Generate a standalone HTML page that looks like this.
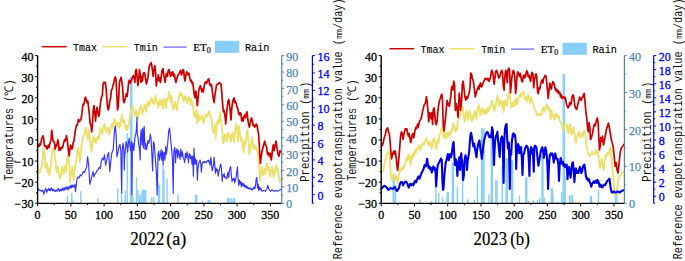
<!DOCTYPE html>
<html><head><meta charset="utf-8"><style>
html,body{margin:0;padding:0;background:#fff;width:685px;height:261px;overflow:hidden;}
svg{display:block;}
</style></head><body>
<svg width="685" height="261" viewBox="0 0 685 261">
<rect width="685" height="261" fill="#fff"/>
<rect x="66.6" y="196.2" width="1.4" height="7.1" fill="#87CEFA"/>
<rect x="71.1" y="192.8" width="1.4" height="10.5" fill="#87CEFA"/>
<rect x="72.5" y="200.5" width="1.4" height="2.8" fill="#87CEFA"/>
<rect x="80.1" y="191" width="1.4" height="12.3" fill="#87CEFA"/>
<rect x="97.1" y="198.3" width="1.4" height="5" fill="#87CEFA"/>
<rect x="117.1" y="188.4" width="1.4" height="14.9" fill="#87CEFA"/>
<rect x="120.8" y="191.9" width="1.4" height="11.4" fill="#87CEFA"/>
<rect x="124.5" y="191" width="1.4" height="12.3" fill="#87CEFA"/>
<rect x="126.6" y="133" width="1.4" height="70.3" fill="#87CEFA"/>
<rect x="129.9" y="77" width="1.4" height="126.3" fill="#87CEFA"/>
<rect x="131.1" y="77" width="1.4" height="126.3" fill="#87CEFA"/>
<rect x="132.2" y="196" width="1.4" height="7.3" fill="#87CEFA"/>
<rect x="135.8" y="177.4" width="1.4" height="25.9" fill="#87CEFA"/>
<rect x="137.3" y="190" width="1.4" height="13.3" fill="#87CEFA"/>
<rect x="138.8" y="196" width="1.4" height="7.3" fill="#87CEFA"/>
<rect x="140.1" y="194" width="1.4" height="9.3" fill="#87CEFA"/>
<rect x="141.5" y="191" width="1.4" height="12.3" fill="#87CEFA"/>
<rect x="142.6" y="189" width="1.4" height="14.3" fill="#87CEFA"/>
<rect x="143.8" y="190" width="1.4" height="13.3" fill="#87CEFA"/>
<rect x="145" y="190" width="1.4" height="13.3" fill="#87CEFA"/>
<rect x="151.1" y="197" width="1.4" height="6.3" fill="#87CEFA"/>
<rect x="153.2" y="197.4" width="1.4" height="5.9" fill="#87CEFA"/>
<rect x="157.8" y="182.7" width="1.4" height="20.6" fill="#87CEFA"/>
<rect x="158.8" y="185" width="1.4" height="18.3" fill="#87CEFA"/>
<rect x="162.3" y="165.8" width="1.4" height="37.5" fill="#87CEFA"/>
<rect x="163.3" y="170" width="1.4" height="33.3" fill="#87CEFA"/>
<rect x="166.3" y="178.5" width="1.4" height="24.8" fill="#87CEFA"/>
<rect x="177.4" y="194.3" width="1.4" height="9" fill="#87CEFA"/>
<rect x="194.8" y="194.6" width="1.4" height="8.7" fill="#87CEFA"/>
<rect x="196.1" y="194.9" width="1.4" height="8.4" fill="#87CEFA"/>
<rect x="201.7" y="200.6" width="1.4" height="2.7" fill="#87CEFA"/>
<rect x="207.5" y="200.4" width="1.4" height="2.9" fill="#87CEFA"/>
<rect x="208.8" y="200" width="1.4" height="3.3" fill="#87CEFA"/>
<rect x="226.8" y="198" width="1.4" height="5.3" fill="#87CEFA"/>
<rect x="228.3" y="197.7" width="1.4" height="5.6" fill="#87CEFA"/>
<rect x="230.3" y="198" width="1.4" height="5.3" fill="#87CEFA"/>
<rect x="232.3" y="198.6" width="1.4" height="4.7" fill="#87CEFA"/>
<rect x="233.8" y="198" width="1.4" height="5.3" fill="#87CEFA"/>
<rect x="249.4" y="201.4" width="1.4" height="1.9" fill="#87CEFA"/>
<rect x="251.3" y="202.4" width="1.4" height="0.9" fill="#87CEFA"/>
<polyline points="38.1,172 38.5,172.6 39.3,169.5 40.1,172.6 40.8,168 41.6,166.5 42.4,161.9 43.1,151.1 43.9,148.1 44.7,154.2 45.4,168 46.2,164.9 47,163.4 47.7,172.6 48.5,168 49.3,175.7 50,171.1 50.8,164.9 51.6,157.3 52.3,151.1 53.1,148.1 53.9,149.6 54.6,154.2 55.4,158.8 56.2,169.5 56.9,172.6 57.7,166.5 58.5,169.5 59.2,175.7 60,178.7 60.8,175.7 61.5,171.1 62.3,166.5 63.1,169.5 63.8,174.1 64.6,169.5 65.4,164.9 66.1,171.1 66.9,160.3 67.7,155.7 68.4,158.8 69.2,164.9 70,181.8 70.7,175.7 71.5,171.1 72.2,166.5 73,175.7 73.8,180.2 74.5,171.1 75.3,164.9 76.1,160.3 76.9,156.8 77.8,147.6 78.8,151.3 79.7,162.3 80.6,154.9 81.5,145.7 82.4,140.2 83.4,136.5 84.3,134.7 85.2,129.2 86.1,127.4 87,134.7 87.9,140.2 88.9,131 89.8,136.5 90.7,147.6 91.6,151.3 92.5,142 93.5,136.5 94.4,142 95.3,138.4 96.2,143 97.1,138.4 98.1,136.5 99,139 99.9,131 100.7,128 101.5,131.8 102.2,134.1 103,130.3 103.8,126.5 104.5,123.4 105.3,128 106.1,131.8 106.8,129.5 107.6,127.2 108.4,130.3 109.1,134.9 109.9,131.8 110.7,128 111.4,125.7 112.2,123.4 113,128 113.7,122.6 114.5,118.8 115.2,121.1 116,126.5 116.8,124.9 117.5,122.6 118.3,125.7 119.1,128 119.5,122.7 120.3,125.7 121.1,118.8 121.8,115 122.6,121.1 123.4,122.7 124.1,119.6 124.9,125 125.7,128.8 126.4,125.7 127.2,130.3 128,127.2 128.7,124.2 129.5,119.6 130.3,115 131.5,109 132.6,105.8 133.3,107.3 134.1,111.9 134.9,115.8 135.6,113.5 136.4,110.4 137.2,115 137.9,118.8 138.7,115 139.5,109.6 140.2,107.3 141,105.8 141.8,110.4 142.5,114.2 143.3,110.4 144.1,107.3 144.8,104.3 145.6,108.9 146.4,111.9 147.1,104.3 147.9,101.2 148.7,104.3 149.4,105.8 150.2,101.2 151,98.1 151.7,99.7 152.5,102.7 153.2,99.7 154,104.3 154.8,99.7 155.5,95.1 156.3,99.7 157.5,104.9 158.3,108 159.1,101.9 159.8,99.6 160.6,104.9 161.4,100.3 162.1,103.4 162.9,108.8 163.7,100.3 164.4,98.8 165.2,104.9 166,108 166.7,98.8 167.5,100.3 168.3,96.5 169,91.9 169.8,97.3 170.6,101.9 171.3,95.7 172.1,103.4 172.9,108 173.6,109.5 174.4,103.4 175.2,101.9 175.9,106.5 176.7,110.3 177.5,104.9 178.2,100.3 179,97.3 179.8,94.2 180.5,91.9 181.3,95.7 182.1,94.2 182.8,97.3 183.6,101.9 184.4,98.8 185.1,95.7 185.9,99.6 186.7,97.3 187.4,103.4 188.2,98.8 189,96.5 189.7,100.3 190.5,104.9 191.2,98.8 192,101.9 192.8,105.7 193.5,111.1 194.3,115.7 195.1,117.2 195.8,112.7 196.5,109.6 197.3,123.4 198.1,114.2 198.8,115.7 199.6,120.3 200.4,117.3 201.1,118.8 201.9,115.7 202.7,119.6 203.4,123.4 204.2,120.3 205,115.7 205.7,117.3 206.5,114.2 207.3,116.5 208,114.2 208.8,111.1 209.6,114.2 210.3,115.7 211.1,117.3 211.9,121.9 212.6,131.1 213.4,132.6 214.2,128 214.9,124.9 215.7,138.7 216.5,128 217.2,121.9 218,120.3 218.8,123.4 219.5,117.3 220.3,112.7 221.1,121.9 221.8,128 222.6,135.7 223.4,143.3 224.1,138.7 224.9,134.1 225.7,135.7 226.4,141.8 227.2,135.7 228,132.6 228.7,137.2 229.5,134.1 230.3,138.7 231,141.8 231.8,135.7 232.6,132.6 233.3,137.2 234.1,141.8 235,131.5 235.9,123.8 236.9,127.7 237.8,141.1 238.8,125.7 239.7,131.5 240.7,141.1 241.7,137.2 242.6,144.9 243.6,152.6 244.5,141.1 245.5,144.9 246.5,135.3 247.4,129.6 248.4,141.1 249.3,154.5 250.3,146.8 251.2,143 252.2,137.2 253.2,148.7 254.1,144.9 255.1,148.7 256,146.8 257,150.7 257.9,152.6 258.9,166 259.6,172 260.2,180.4 261.1,171.9 261.9,166.9 262.8,173.6 263.6,175.3 264.5,168.5 265.3,173.6 266.1,166.9 267,163.5 267.8,170.2 268.7,166.9 269.5,173.6 270.4,177 271.2,170.2 272,166.9 272.9,171.9 273.7,177 274.6,171.9 275.4,166.9 276.3,165.2 277.1,171.9 277.9,168.5 278.8,175.3 279.6,182 280.5,178.7" fill="none" stroke="#ECE06A" stroke-width="1.8" stroke-linejoin="round" stroke-linecap="round" opacity="1.0"/>
<polyline points="38.3,145.1 39,146.5 39.7,143.8 40.4,145.1 41,142.4 41.7,138.4 42.4,137.7 43,135.7 43.7,139.1 44.4,145.1 45,146.5 45.7,145.8 46.4,147.8 47.1,149.1 47.7,146.5 48.4,145.1 49.1,147.8 49.7,143.8 50.4,142.4 51.1,138.4 51.8,130.4 52.4,135.7 53.1,141.1 53.8,141.8 54.4,142.4 55.1,149.1 55.8,145.1 56.4,146.5 57.1,143.8 57.8,139.8 58.5,142.4 59.1,150.5 59.8,147.8 60.5,149.8 61.1,148.5 61.8,147.1 62.5,147.8 63.1,145.1 63.8,142.4 64.5,139.8 65.2,141.1 65.8,138.4 66.5,135.7 67.2,139.8 67.8,145.1 68.5,151.8 69.2,155.8 69.9,149.1 70.5,145.1 71.2,146.5 71.9,149.1 72.5,147.8 73.2,142.4 73.9,141.1 74.5,137.1 75.2,131.7 75.9,127.7 76.6,125 77.3,125.2 78.4,119.4 79.6,121.7 80,120.3 80.8,119.6 81.5,116.5 82.3,110 83.1,104 83.8,104.5 84.8,99.6 85.5,97 86.3,100.4 87.1,102.7 87.8,101.1 88.6,107.3 89.4,114.9 90.1,123.4 90.9,124.1 91.7,131.8 92.4,125.7 93.2,110.3 94,105.7 94.7,111.9 95.5,121.1 96.3,111.9 97,107.3 97.8,111.9 98.6,116.5 99.3,114.9 100.1,106 100.9,100 101.6,97 102.4,95 103,85.3 103.8,82.3 105.3,82.3 106.1,88.4 106.8,97.6 107.6,108 108.4,110 109.1,106 109.9,100.7 110.7,97.6 111.4,89.9 112.2,89.2 113,85.3 113.7,83 114.5,79.2 115.2,76.9 116,79.2 116.8,94.5 117.5,110 118.3,106 119.5,81.8 121.1,77.2 122.6,87.1 123.4,101 124.1,102.7 124.9,99.7 125.7,96.6 126.4,93.5 127.2,96.3 128,88.7 128.7,81.8 129.5,80.2 130.3,83.3 131.5,80 132.6,77.2 133.3,75.6 134.1,77.2 134.9,82.5 135.6,70.3 136.4,69.5 137.2,77.9 137.9,85.6 138.7,79.5 139.5,69.5 140.2,74.9 141,82.5 141.8,76.4 142.5,81 143.3,73.3 144.1,72.6 144.8,73.3 145.6,79.5 146.4,84 147.1,81 147.9,77.9 148.7,70.3 149.4,65.7 150.2,64.1 151,62.6 151.7,64.9 152.5,70.3 153.2,76.4 154,70.3 154.8,65.7 155.5,70.3 156.3,86 157,80.5 157.5,79.5 158.3,74.9 159.1,81 159.8,77.9 160.6,82.5 161.4,74.9 162.1,70.3 162.9,68.7 163.7,74.9 164.4,77.9 165.2,82.5 166,74.9 166.7,73.3 167.5,76.4 168.3,70.3 169,69.5 169.8,73.3 170.6,76.4 171.3,72.6 172.1,74.9 172.9,71.8 173.6,76.4 174.4,74.1 175.2,79.5 175.9,82.5 176.7,79.5 177.5,76.4 178.2,74.9 179,73.3 179.8,72.6 180.5,70.3 181.3,74.9 182.1,73.3 182.8,69.5 183.6,70.3 184.4,77.9 185.1,81 185.9,74.9 186.7,71.8 187.4,72.6 188.2,74.9 189,73.3 189.7,77.9 190.5,81 191.2,80.2 192,83.3 192.8,82.5 193.5,88.7 194.3,94.8 195.1,97.8 195.8,91.1 196.5,96.5 197.3,105.7 198.1,98 198.8,90.3 199.6,87.3 200.4,85.7 201.1,88.8 201.9,91.9 202.7,88.8 203.4,91.9 204.2,85.7 205,82.7 205.7,81.9 206.5,83.4 207.3,81.1 208,79.6 208.8,78.8 209.6,84.2 210.3,85.7 211.1,84.2 211.9,87.3 212.6,93.4 213.4,99.5 214.2,102.6 214.9,94.9 215.7,90.3 216.5,85 217.2,84.2 218,84.2 218.8,83.4 219.5,82.7 220.3,83.4 221.1,84.2 221.8,93.4 222.6,104.1 223.4,111.8 224.1,110.2 224.9,115 225.7,124 226.4,116 227.2,107.2 228,101.1 228.7,99.5 229.5,104.1 230.3,112 231,120 231.8,108 232.6,102.6 233.3,99.5 234.1,98 234.8,102.6 235.5,101.1 236.3,104.1 237.1,107.2 237.8,108.7 238.6,113.3 239.4,114.9 240.1,112.6 240.9,113.3 241.7,121 242.4,117.9 243.2,121 244,116.4 244.7,114.9 245.5,117.9 246.3,113.3 247,111.8 247.8,119.5 248.6,124.1 249.3,127.1 250.1,124.1 250.9,119.5 251.6,117.9 252.4,121 253.2,125.6 253.9,124.8 254.7,127.1 255.5,125.6 256.2,124.1 257,125.6 257.8,130.2 258.5,133.2 259.3,145 259.9,157 260.4,163.5 261.1,157 261.9,152 262.7,148.7 263.7,144.9 264.7,141.1 265.6,144.9 266.6,146.8 267.5,154.5 268.5,152.6 269.4,156.4 270.4,153.4 271.2,160 272,155 272.6,148.7 273.3,144.9 274.2,150.7 275.2,144.9 276.1,141.1 277.1,148.7 278.1,154.5 279,156.4 280,150.7 281,152" fill="none" stroke="#CC0000" stroke-width="1.7" stroke-linejoin="round" stroke-linecap="round" opacity="1.0"/>
<polyline points="38.1,188.6 39.3,190.7 40.4,190.1 41.6,191.3 42.7,190.1 43.3,192.4 43.9,194.1 44.5,191.3 45,190.1 45.6,188.4 46.2,190.1 46.8,192.4 47.3,190.7 47.9,189.5 48.5,188.4 49.1,190.7 49.6,189 50.2,190.7 50.8,189.5 51.4,187.8 51.9,189.5 52.5,190.7 53.1,189 53.7,190.1 54.2,191.3 54.8,190.1 55.4,191.3 56,190.7 56.5,190.1 57.1,191.3 57.7,190.1 58.3,188.4 58.8,190.1 59.4,191.3 60,189.5 60.6,190.7 61.1,189 61.7,190.7 62.3,189 62.9,187.8 63.4,189.5 64,190.7 64.6,188.4 65.2,187.2 65.7,189.5 66.3,188.4 66.9,186.7 67.5,188.4 68,190.1 68.6,187.8 69.2,186.1 69.8,188.4 70.3,187.2 70.9,185.5 71.5,187.8 72.1,184.9 72.6,186.1 73.2,187.2 73.8,185.5 74.4,186.7 74.9,184.4 75.5,191.8 76.1,186.4 77.1,179 78.2,176.9 79.2,177.9 80.3,174.8 81.3,175.8 82.4,173.7 83.4,171.6 84.5,172.7 85.5,169.5 86.6,167.4 87.6,156.9 88.7,165.3 89.8,184.3 90.8,181.1 91.9,175.8 92.9,171.6 94,176.9 95,173.7 96.1,172.7 97.1,170.6 98.2,169.5 99.2,167.4 100.3,168.5 101.3,161.1 102.4,157.9 103.5,160 104.5,154.8 105.6,165.3 106.6,161.1 107.7,154.8 108.7,152.6 109.8,171.6 110.8,161.1 111.9,152.6 112.9,150.5 113.1,150.7 113.9,139.9 114.6,129.2 115.4,126.1 116.2,136.9 116.9,156.8 117.7,153.7 118.5,149.1 119.2,146.1 120,144.5 120.8,150.7 121.3,175 121.7,193 122.3,149.1 123.1,143 123.8,149.1 124.3,170 124.6,156.8 125.4,149.1 126.1,141.5 126.9,144.5 127.7,152.2 128.4,143 129.2,138.4 130,146.1 130.7,150.7 131.5,141.5 131.9,195 132.4,149.1 133,143 133.8,150.7 134.5,143 135.3,135.3 135.8,134.2 136.5,128.1 136.9,117 137.3,134.2 138.1,138.8 138.8,144.9 139.6,149.5 140.2,160 140.4,140.3 141.1,129.6 141.9,144.9 142.7,128.1 143.4,148 144.2,126.5 145,149.5 145.7,143.4 146.5,149.5 147.3,144.9 148,140.3 148.8,143.4 149.6,140.3 150.3,134.2 151.1,138.8 151.9,155.7 152.6,171 153.4,141.9 154.2,143.4 154.9,152.6 155.7,163.3 156.5,175 157.2,195 158,154.1 158.8,151.1 159.5,160.2 160.3,155.7 161.1,149.5 161.8,160.2 162.6,151.1 163.1,165 163.4,158.7 164.1,152.6 164.9,160.2 165.7,146.5 166.4,154.1 167.2,148 168,140.3 168.7,131.1 169.5,128.1 170.2,134.2 171,143.4 171.8,151.1 172.5,160 173.2,193.5 173.8,152.6 174.1,149.5 174.8,147.3 175.5,162.6 176.3,150.3 177.1,148.8 177.8,158 178.6,150.3 179.4,154.9 180.1,159.5 180.9,148.8 181.7,156.5 182.4,151.9 183.2,158 184,159.5 184.7,162.6 185.5,153.4 186.3,158 187,151.9 187.8,156.5 188.6,162.6 189.3,153.4 190,154.7 190.7,158.7 191.3,156 192,164.1 192.7,156 193.4,176.2 194,148 194.7,164.1 195.4,158.7 196,164.1 196.7,160.1 197.4,180.2 198,168.1 198.7,164.1 199.4,161.4 200.1,160.1 200.7,162.8 201.4,172.1 202.1,164.1 202.7,162.8 203.4,161.4 204.1,162.8 204.8,161.4 205.4,162.1 206.1,162.8 206.8,161.4 207.4,160.7 208.1,161.4 208.8,160.1 209.4,162.8 210.1,165.4 210.8,157.4 211.5,162.8 212.1,170.8 212.8,168.1 213.5,165.4 214.1,157.4 214.8,165.4 215.5,173.5 216.1,168.1 216.8,170.8 217.5,169.5 218.2,176.2 218.8,172.1 219.5,169.5 220.2,165.4 220.8,164.1 221.5,169.5 222.2,181.5 222.9,174.8 223.5,176.2 224.2,173.5 224.7,177.4 225.4,176.8 226,178.1 226.7,178.8 227.4,174.8 228,172.1 228.7,177.4 229.4,170.7 230,168 230.7,166.7 231.4,176.1 232.1,181.5 232.7,178.8 233.4,180.1 234.1,178.1 234.7,182.8 235.4,180.1 236.1,177.4 236.8,172.1 237.4,166.7 238.1,178.8 238.8,185.5 239.4,180.1 240.1,184.1 240.8,181.5 241.4,186.8 242.1,182.8 242.8,185.5 243.5,183.5 244.1,186.8 244.8,184.8 245.5,187.5 246.1,185.5 246.8,188.2 247.5,186.8 248.1,188.8 248.8,187.5 249.5,188.8 250.2,188.2 250.8,189.5 251.5,188.8 252.2,190.2 252.8,188.2 253.5,188.8 254.2,186.8 254.9,188.8 255.5,185.5 256.2,178.8 256.9,177.4 257.5,188.2 258.2,184.1 258.9,190.8 259.5,186.8 260.2,189.5 260.9,188.2 261.9,191.3 263.6,190.5 265.3,191.3 267,188.8 267.8,185.4 268.7,188.8 270.4,191.3 272,189.6 273.7,191.3 275.4,190.5 277.1,191.3 278.8,190.5 280.5,189.6 281.2,190" fill="none" stroke="#3434FF" stroke-width="1.15" stroke-linejoin="round" stroke-linecap="round" opacity="1.0"/>
<line x1="37.6" y1="203.3" x2="281.7" y2="203.3" stroke="#000" stroke-width="1.2"/>
<line x1="37.6" y1="203.3" x2="37.6" y2="206.3" stroke="#000" stroke-width="1"/>
<text x="37.6" y="218.9" text-anchor="middle" font-family="'Liberation Serif', serif" font-size="12" fill="#000" stroke="#000" stroke-width="0.3">0</text>
<line x1="54.23" y1="203.3" x2="54.23" y2="205.1" stroke="#000" stroke-width="1"/>
<line x1="70.85" y1="203.3" x2="70.85" y2="206.3" stroke="#000" stroke-width="1"/>
<text x="70.85" y="218.9" text-anchor="middle" font-family="'Liberation Serif', serif" font-size="12" fill="#000" stroke="#000" stroke-width="0.3">50</text>
<line x1="87.47" y1="203.3" x2="87.47" y2="205.1" stroke="#000" stroke-width="1"/>
<line x1="104.1" y1="203.3" x2="104.1" y2="206.3" stroke="#000" stroke-width="1"/>
<text x="104.1" y="218.9" text-anchor="middle" font-family="'Liberation Serif', serif" font-size="12" fill="#000" stroke="#000" stroke-width="0.3">100</text>
<line x1="120.72" y1="203.3" x2="120.72" y2="205.1" stroke="#000" stroke-width="1"/>
<line x1="137.35" y1="203.3" x2="137.35" y2="206.3" stroke="#000" stroke-width="1"/>
<text x="137.35" y="218.9" text-anchor="middle" font-family="'Liberation Serif', serif" font-size="12" fill="#000" stroke="#000" stroke-width="0.3">150</text>
<line x1="153.97" y1="203.3" x2="153.97" y2="205.1" stroke="#000" stroke-width="1"/>
<line x1="170.6" y1="203.3" x2="170.6" y2="206.3" stroke="#000" stroke-width="1"/>
<text x="170.6" y="218.9" text-anchor="middle" font-family="'Liberation Serif', serif" font-size="12" fill="#000" stroke="#000" stroke-width="0.3">200</text>
<line x1="187.22" y1="203.3" x2="187.22" y2="205.1" stroke="#000" stroke-width="1"/>
<line x1="203.85" y1="203.3" x2="203.85" y2="206.3" stroke="#000" stroke-width="1"/>
<text x="203.85" y="218.9" text-anchor="middle" font-family="'Liberation Serif', serif" font-size="12" fill="#000" stroke="#000" stroke-width="0.3">250</text>
<line x1="220.47" y1="203.3" x2="220.47" y2="205.1" stroke="#000" stroke-width="1"/>
<line x1="237.1" y1="203.3" x2="237.1" y2="206.3" stroke="#000" stroke-width="1"/>
<text x="237.1" y="218.9" text-anchor="middle" font-family="'Liberation Serif', serif" font-size="12" fill="#000" stroke="#000" stroke-width="0.3">300</text>
<line x1="253.72" y1="203.3" x2="253.72" y2="205.1" stroke="#000" stroke-width="1"/>
<line x1="270.35" y1="203.3" x2="270.35" y2="206.3" stroke="#000" stroke-width="1"/>
<text x="270.35" y="218.9" text-anchor="middle" font-family="'Liberation Serif', serif" font-size="12" fill="#000" stroke="#000" stroke-width="0.3">350</text>
<line x1="37.6" y1="55.6" x2="37.6" y2="203.3" stroke="#000" stroke-width="1.4"/>
<line x1="35.1" y1="203.3" x2="37.6" y2="203.3" stroke="#000" stroke-width="1"/>
<text x="33.4" y="208.2" text-anchor="end" font-family="'Liberation Serif', serif" font-size="12" fill="#000" stroke="#000" stroke-width="0.3">−30</text>
<line x1="36.1" y1="192.75" x2="37.6" y2="192.75" stroke="#000" stroke-width="1"/>
<line x1="35.1" y1="182.2" x2="37.6" y2="182.2" stroke="#000" stroke-width="1"/>
<text x="33.4" y="187.1" text-anchor="end" font-family="'Liberation Serif', serif" font-size="12" fill="#000" stroke="#000" stroke-width="0.3">−20</text>
<line x1="36.1" y1="171.65" x2="37.6" y2="171.65" stroke="#000" stroke-width="1"/>
<line x1="35.1" y1="161.1" x2="37.6" y2="161.1" stroke="#000" stroke-width="1"/>
<text x="33.4" y="166" text-anchor="end" font-family="'Liberation Serif', serif" font-size="12" fill="#000" stroke="#000" stroke-width="0.3">−10</text>
<line x1="36.1" y1="150.55" x2="37.6" y2="150.55" stroke="#000" stroke-width="1"/>
<line x1="35.1" y1="140" x2="37.6" y2="140" stroke="#000" stroke-width="1"/>
<text x="33.4" y="144.9" text-anchor="end" font-family="'Liberation Serif', serif" font-size="12" fill="#000" stroke="#000" stroke-width="0.3">0</text>
<line x1="36.1" y1="129.45" x2="37.6" y2="129.45" stroke="#000" stroke-width="1"/>
<line x1="35.1" y1="118.9" x2="37.6" y2="118.9" stroke="#000" stroke-width="1"/>
<text x="33.4" y="123.8" text-anchor="end" font-family="'Liberation Serif', serif" font-size="12" fill="#000" stroke="#000" stroke-width="0.3">10</text>
<line x1="36.1" y1="108.35" x2="37.6" y2="108.35" stroke="#000" stroke-width="1"/>
<line x1="35.1" y1="97.8" x2="37.6" y2="97.8" stroke="#000" stroke-width="1"/>
<text x="33.4" y="102.7" text-anchor="end" font-family="'Liberation Serif', serif" font-size="12" fill="#000" stroke="#000" stroke-width="0.3">20</text>
<line x1="36.1" y1="87.25" x2="37.6" y2="87.25" stroke="#000" stroke-width="1"/>
<line x1="35.1" y1="76.7" x2="37.6" y2="76.7" stroke="#000" stroke-width="1"/>
<text x="33.4" y="81.6" text-anchor="end" font-family="'Liberation Serif', serif" font-size="12" fill="#000" stroke="#000" stroke-width="0.3">30</text>
<line x1="36.1" y1="66.15" x2="37.6" y2="66.15" stroke="#000" stroke-width="1"/>
<line x1="35.1" y1="55.6" x2="37.6" y2="55.6" stroke="#000" stroke-width="1"/>
<text x="33.4" y="60.5" text-anchor="end" font-family="'Liberation Serif', serif" font-size="12" fill="#000" stroke="#000" stroke-width="0.3">40</text>
<line x1="281.7" y1="55.6" x2="281.7" y2="203.3" stroke="#4F86B6" stroke-width="1.2"/>
<line x1="281.7" y1="203.3" x2="284.2" y2="203.3" stroke="#4F86B6" stroke-width="1"/>
<text x="286.3" y="208.4" font-family="'Liberation Serif', serif" font-size="12" fill="#4F86B6" stroke="#4F86B6" stroke-width="0.25">0</text>
<line x1="281.7" y1="195.09" x2="283.2" y2="195.09" stroke="#4F86B6" stroke-width="1"/>
<line x1="281.7" y1="186.89" x2="284.2" y2="186.89" stroke="#4F86B6" stroke-width="1"/>
<text x="286.3" y="191.99" font-family="'Liberation Serif', serif" font-size="12" fill="#4F86B6" stroke="#4F86B6" stroke-width="0.25">10</text>
<line x1="281.7" y1="178.68" x2="283.2" y2="178.68" stroke="#4F86B6" stroke-width="1"/>
<line x1="281.7" y1="170.48" x2="284.2" y2="170.48" stroke="#4F86B6" stroke-width="1"/>
<text x="286.3" y="175.58" font-family="'Liberation Serif', serif" font-size="12" fill="#4F86B6" stroke="#4F86B6" stroke-width="0.25">20</text>
<line x1="281.7" y1="162.27" x2="283.2" y2="162.27" stroke="#4F86B6" stroke-width="1"/>
<line x1="281.7" y1="154.07" x2="284.2" y2="154.07" stroke="#4F86B6" stroke-width="1"/>
<text x="286.3" y="159.17" font-family="'Liberation Serif', serif" font-size="12" fill="#4F86B6" stroke="#4F86B6" stroke-width="0.25">30</text>
<line x1="281.7" y1="145.86" x2="283.2" y2="145.86" stroke="#4F86B6" stroke-width="1"/>
<line x1="281.7" y1="137.66" x2="284.2" y2="137.66" stroke="#4F86B6" stroke-width="1"/>
<text x="286.3" y="142.76" font-family="'Liberation Serif', serif" font-size="12" fill="#4F86B6" stroke="#4F86B6" stroke-width="0.25">40</text>
<line x1="281.7" y1="129.45" x2="283.2" y2="129.45" stroke="#4F86B6" stroke-width="1"/>
<line x1="281.7" y1="121.24" x2="284.2" y2="121.24" stroke="#4F86B6" stroke-width="1"/>
<text x="286.3" y="126.34" font-family="'Liberation Serif', serif" font-size="12" fill="#4F86B6" stroke="#4F86B6" stroke-width="0.25">50</text>
<line x1="281.7" y1="113.04" x2="283.2" y2="113.04" stroke="#4F86B6" stroke-width="1"/>
<line x1="281.7" y1="104.83" x2="284.2" y2="104.83" stroke="#4F86B6" stroke-width="1"/>
<text x="286.3" y="109.93" font-family="'Liberation Serif', serif" font-size="12" fill="#4F86B6" stroke="#4F86B6" stroke-width="0.25">60</text>
<line x1="281.7" y1="96.63" x2="283.2" y2="96.63" stroke="#4F86B6" stroke-width="1"/>
<line x1="281.7" y1="88.42" x2="284.2" y2="88.42" stroke="#4F86B6" stroke-width="1"/>
<text x="286.3" y="93.52" font-family="'Liberation Serif', serif" font-size="12" fill="#4F86B6" stroke="#4F86B6" stroke-width="0.25">70</text>
<line x1="281.7" y1="80.22" x2="283.2" y2="80.22" stroke="#4F86B6" stroke-width="1"/>
<line x1="281.7" y1="72.01" x2="284.2" y2="72.01" stroke="#4F86B6" stroke-width="1"/>
<text x="286.3" y="77.11" font-family="'Liberation Serif', serif" font-size="12" fill="#4F86B6" stroke="#4F86B6" stroke-width="0.25">80</text>
<line x1="281.7" y1="63.81" x2="283.2" y2="63.81" stroke="#4F86B6" stroke-width="1"/>
<line x1="281.7" y1="55.6" x2="284.2" y2="55.6" stroke="#4F86B6" stroke-width="1"/>
<text x="286.3" y="60.7" font-family="'Liberation Serif', serif" font-size="12" fill="#4F86B6" stroke="#4F86B6" stroke-width="0.25">90</text>
<line x1="312.4" y1="55.6" x2="312.4" y2="203.3" stroke="#0000FF" stroke-width="1.2"/>
<line x1="312.4" y1="203.3" x2="313.9" y2="203.3" stroke="#0000FF" stroke-width="1"/>
<line x1="312.4" y1="194.61" x2="314.9" y2="194.61" stroke="#0000FF" stroke-width="1"/>
<text x="317.4" y="199.71" font-family="'Liberation Serif', serif" font-size="12" fill="#0000FF" stroke="#0000FF" stroke-width="0.3">0</text>
<line x1="312.4" y1="185.92" x2="313.9" y2="185.92" stroke="#0000FF" stroke-width="1"/>
<line x1="312.4" y1="177.24" x2="314.9" y2="177.24" stroke="#0000FF" stroke-width="1"/>
<text x="317.4" y="182.34" font-family="'Liberation Serif', serif" font-size="12" fill="#0000FF" stroke="#0000FF" stroke-width="0.3">2</text>
<line x1="312.4" y1="168.55" x2="313.9" y2="168.55" stroke="#0000FF" stroke-width="1"/>
<line x1="312.4" y1="159.86" x2="314.9" y2="159.86" stroke="#0000FF" stroke-width="1"/>
<text x="317.4" y="164.96" font-family="'Liberation Serif', serif" font-size="12" fill="#0000FF" stroke="#0000FF" stroke-width="0.3">4</text>
<line x1="312.4" y1="151.17" x2="313.9" y2="151.17" stroke="#0000FF" stroke-width="1"/>
<line x1="312.4" y1="142.48" x2="314.9" y2="142.48" stroke="#0000FF" stroke-width="1"/>
<text x="317.4" y="147.58" font-family="'Liberation Serif', serif" font-size="12" fill="#0000FF" stroke="#0000FF" stroke-width="0.3">6</text>
<line x1="312.4" y1="133.79" x2="313.9" y2="133.79" stroke="#0000FF" stroke-width="1"/>
<line x1="312.4" y1="125.11" x2="314.9" y2="125.11" stroke="#0000FF" stroke-width="1"/>
<text x="317.4" y="130.21" font-family="'Liberation Serif', serif" font-size="12" fill="#0000FF" stroke="#0000FF" stroke-width="0.3">8</text>
<line x1="312.4" y1="116.42" x2="313.9" y2="116.42" stroke="#0000FF" stroke-width="1"/>
<line x1="312.4" y1="107.73" x2="314.9" y2="107.73" stroke="#0000FF" stroke-width="1"/>
<text x="317.4" y="112.83" font-family="'Liberation Serif', serif" font-size="12" fill="#0000FF" stroke="#0000FF" stroke-width="0.3">10</text>
<line x1="312.4" y1="99.04" x2="313.9" y2="99.04" stroke="#0000FF" stroke-width="1"/>
<line x1="312.4" y1="90.35" x2="314.9" y2="90.35" stroke="#0000FF" stroke-width="1"/>
<text x="317.4" y="95.45" font-family="'Liberation Serif', serif" font-size="12" fill="#0000FF" stroke="#0000FF" stroke-width="0.3">12</text>
<line x1="312.4" y1="81.66" x2="313.9" y2="81.66" stroke="#0000FF" stroke-width="1"/>
<line x1="312.4" y1="72.98" x2="314.9" y2="72.98" stroke="#0000FF" stroke-width="1"/>
<text x="317.4" y="78.08" font-family="'Liberation Serif', serif" font-size="12" fill="#0000FF" stroke="#0000FF" stroke-width="0.3">14</text>
<line x1="312.4" y1="64.29" x2="313.9" y2="64.29" stroke="#0000FF" stroke-width="1"/>
<line x1="312.4" y1="55.6" x2="314.9" y2="55.6" stroke="#0000FF" stroke-width="1"/>
<text x="317.4" y="60.7" font-family="'Liberation Serif', serif" font-size="12" fill="#0000FF" stroke="#0000FF" stroke-width="0.3">16</text>
<text transform="translate(12.9,180.8) rotate(-90)" font-family="'Liberation Mono', monospace" font-size="12" fill="#111" textLength="101.3" lengthAdjust="spacingAndGlyphs">Temperatures (℃)</text>
<text transform="translate(309.2,181.8) rotate(-90)" font-family="'Liberation Mono', monospace" font-size="12" fill="#111" textLength="100.3" lengthAdjust="spacingAndGlyphs">Precipition (㎜)</text>
<text transform="translate(341.5,259.3) rotate(-90)" font-family="'Liberation Mono', monospace" font-size="12" fill="#111" textLength="260.8" lengthAdjust="spacingAndGlyphs">Reference evapotranspiration value (㎜/day)</text>
<line x1="42" y1="46.7" x2="66.6" y2="46.7" stroke="#CC0000" stroke-width="1.5"/>
<text x="73" y="50.5" font-family="'Liberation Mono', monospace" font-size="11.5" fill="#000" stroke="#000" stroke-width="0.12" textLength="24" lengthAdjust="spacingAndGlyphs" lengthAdjust="spacingAndGlyphs">Tmax</text>
<line x1="102.4" y1="46.7" x2="127" y2="46.7" stroke="#ECE06A" stroke-width="1.5"/>
<text x="133.7" y="50.5" font-family="'Liberation Mono', monospace" font-size="11.5" fill="#000" stroke="#000" stroke-width="0.12" textLength="24" lengthAdjust="spacingAndGlyphs" lengthAdjust="spacingAndGlyphs">Tmin</text>
<line x1="163.4" y1="47.1" x2="186.6" y2="47.1" stroke="#7070FF" stroke-width="1.3"/>
<text x="193.2" y="50.5" font-family="'Liberation Serif', serif" font-size="11" fill="#000" stroke="#000" stroke-width="0.2">ET<tspan font-size="8" dy="2.6">0</tspan></text>
<rect x="215" y="40.8" width="24.3" height="12" fill="#87CEFA"/>
<text x="245" y="50.5" font-family="'Liberation Mono', monospace" font-size="11.5" fill="#000" stroke="#000" stroke-width="0.12" textLength="24.5" lengthAdjust="spacingAndGlyphs" lengthAdjust="spacingAndGlyphs">Rain</text>
<text x="130.2" y="244.5" font-family="'Liberation Serif', serif" font-size="18" fill="#000" stroke="#000" stroke-width="0.2" textLength="34" lengthAdjust="spacingAndGlyphs">2022</text>
<text x="166.2" y="244.5" font-family="'Liberation Serif', serif" font-size="18" fill="#000" stroke="#000" stroke-width="0.2" textLength="20.2" lengthAdjust="spacingAndGlyphs">(a)</text>
<rect x="392.5" y="175.7" width="1.4" height="27.6" fill="#87CEFA"/>
<rect x="393.4" y="175.7" width="1.4" height="27.6" fill="#87CEFA"/>
<rect x="394.9" y="185" width="1.4" height="18.3" fill="#87CEFA"/>
<rect x="419.3" y="199.5" width="1.4" height="3.8" fill="#87CEFA"/>
<rect x="430.9" y="201" width="1.4" height="2.3" fill="#87CEFA"/>
<rect x="435.2" y="184.7" width="1.4" height="18.6" fill="#87CEFA"/>
<rect x="438" y="193" width="1.4" height="10.3" fill="#87CEFA"/>
<rect x="441.9" y="197.4" width="1.4" height="5.9" fill="#87CEFA"/>
<rect x="446.5" y="192" width="1.4" height="11.3" fill="#87CEFA"/>
<rect x="447.5" y="192" width="1.4" height="11.3" fill="#87CEFA"/>
<rect x="451.7" y="162.6" width="1.4" height="40.7" fill="#87CEFA"/>
<rect x="452.7" y="162.6" width="1.4" height="40.7" fill="#87CEFA"/>
<rect x="456.7" y="186.8" width="1.4" height="16.5" fill="#87CEFA"/>
<rect x="461.9" y="175.3" width="1.4" height="28" fill="#87CEFA"/>
<rect x="467.2" y="199.5" width="1.4" height="3.8" fill="#87CEFA"/>
<rect x="473.5" y="199.5" width="1.4" height="3.8" fill="#87CEFA"/>
<rect x="476.7" y="176.3" width="1.4" height="27" fill="#87CEFA"/>
<rect x="480.9" y="128.4" width="1.4" height="74.9" fill="#87CEFA"/>
<rect x="482.1" y="128.4" width="1.4" height="74.9" fill="#87CEFA"/>
<rect x="483.3" y="128.4" width="1.4" height="74.9" fill="#87CEFA"/>
<rect x="488.3" y="194.2" width="1.4" height="9.1" fill="#87CEFA"/>
<rect x="490.6" y="137" width="1.4" height="66.3" fill="#87CEFA"/>
<rect x="491.6" y="137" width="1.4" height="66.3" fill="#87CEFA"/>
<rect x="495.1" y="180.2" width="1.4" height="23.1" fill="#87CEFA"/>
<rect x="496.3" y="180.5" width="1.4" height="22.8" fill="#87CEFA"/>
<rect x="501.6" y="166" width="1.4" height="37.3" fill="#87CEFA"/>
<rect x="505.5" y="158.4" width="1.4" height="44.9" fill="#87CEFA"/>
<rect x="506.6" y="158.4" width="1.4" height="44.9" fill="#87CEFA"/>
<rect x="510.8" y="160.5" width="1.4" height="42.8" fill="#87CEFA"/>
<rect x="511.9" y="160.5" width="1.4" height="42.8" fill="#87CEFA"/>
<rect x="518.8" y="195.3" width="1.4" height="8" fill="#87CEFA"/>
<rect x="525.1" y="177.4" width="1.4" height="25.9" fill="#87CEFA"/>
<rect x="526.1" y="177.4" width="1.4" height="25.9" fill="#87CEFA"/>
<rect x="528.1" y="201" width="1.4" height="2.3" fill="#87CEFA"/>
<rect x="532.5" y="199.7" width="1.4" height="3.6" fill="#87CEFA"/>
<rect x="536.8" y="199.7" width="1.4" height="3.6" fill="#87CEFA"/>
<rect x="539" y="198" width="1.4" height="5.3" fill="#87CEFA"/>
<rect x="541.3" y="156" width="1.4" height="47.3" fill="#87CEFA"/>
<rect x="542.3" y="156" width="1.4" height="47.3" fill="#87CEFA"/>
<rect x="543.7" y="198" width="1.4" height="5.3" fill="#87CEFA"/>
<rect x="550.6" y="188.4" width="1.4" height="14.9" fill="#87CEFA"/>
<rect x="551.6" y="188.4" width="1.4" height="14.9" fill="#87CEFA"/>
<rect x="552.3" y="194.5" width="1.4" height="8.8" fill="#87CEFA"/>
<rect x="556.2" y="202" width="1.4" height="1.3" fill="#87CEFA"/>
<rect x="560.9" y="191.9" width="1.4" height="11.4" fill="#87CEFA"/>
<rect x="562.5" y="74" width="1.4" height="129.3" fill="#87CEFA"/>
<rect x="563.6" y="74" width="1.4" height="129.3" fill="#87CEFA"/>
<rect x="564.4" y="177.2" width="1.4" height="26.1" fill="#87CEFA"/>
<rect x="568.8" y="195.3" width="1.4" height="8" fill="#87CEFA"/>
<rect x="570.3" y="195.3" width="1.4" height="8" fill="#87CEFA"/>
<rect x="571.8" y="195.3" width="1.4" height="8" fill="#87CEFA"/>
<rect x="589.8" y="196" width="1.4" height="7.3" fill="#87CEFA"/>
<rect x="590.8" y="196" width="1.4" height="7.3" fill="#87CEFA"/>
<rect x="597.8" y="190" width="1.4" height="13.3" fill="#87CEFA"/>
<rect x="614.8" y="193.7" width="1.4" height="9.6" fill="#87CEFA"/>
<rect x="616.3" y="193.7" width="1.4" height="9.6" fill="#87CEFA"/>
<polyline points="381.5,172.6 383.1,171.1 383.8,168 384.6,163.4 385.4,160.3 386.1,157.3 386.9,154.2 387.7,152.7 388.4,151.1 389.2,154.2 390,163.4 390.7,172.6 391.5,180.2 392.3,177.2 393,174.1 393.8,175.7 394.6,180.2 395.3,178 396.1,175.7 396.9,178.7 397.6,183.3 398.4,178.7 399.2,174.1 399.9,169.5 400.7,170.3 401.5,168 402.2,169.5 403,166.5 403.8,168 404.5,164.9 405.3,163.4 406.1,160.3 406.8,157.3 407.6,160.3 408.4,154.2 409.1,158.8 409.9,157.3 410.7,164.9 411.4,155.7 412.2,158.8 413,154.2 413.7,152.7 414.5,155.7 415.2,149.6 416,152.7 416.8,148.1 417.5,149.6 418,148.8 418.8,145.7 419.5,147.2 420.3,150.3 421.1,147.2 421.8,144.2 422.6,145.7 423.4,142.7 424.1,144.2 424.9,141.1 425.7,139.6 426.4,138.1 427.2,141.1 428,144.2 428.7,142.7 429.5,145.7 430.3,141.1 431,145.7 431.8,148.8 432.6,142.7 433.3,139.6 434.1,138.1 434.9,141.1 435.6,147.2 436.4,148.8 437.2,142.7 437.9,139.6 438.7,142.7 439.5,135 440.2,133.5 441,130.4 441.8,127.3 442.5,130.4 443.3,135 444.1,138.1 444.8,131.9 445.6,135 446.4,138.1 447.1,133.5 447.9,131.9 448.7,136.5 449.4,133.5 450.2,135 451,130.4 451.7,131.9 452.5,127.3 453.2,123.5 454,125.8 454.8,128.9 455.5,131.9 456.3,127.3 457.1,130.4 457.3,123.2 458.8,118.7 460.4,114.1 461.9,109.5 462.7,106.4 463.4,111 464.2,118.7 465,121.7 465.7,115.6 466.5,111 467.3,115.6 468,120.2 468.8,114.1 469.6,111 470.3,112.5 471.1,118.7 471.9,121.7 472.6,115.6 473.4,118.7 474.2,114.1 474.9,111 475.7,115.6 476.5,118.7 477.2,112.5 478,107.9 478.8,104.9 479.5,109.5 480.3,115.6 481.1,111 481.8,107.9 482.6,111 483.4,114.1 484.1,109.5 484.9,111 485.7,114.1 486.4,109.5 487.2,112.5 488,107.9 488.7,111 489.5,106.4 490.2,107.9 491,104.9 491.8,100.3 492.5,101.8 493.3,106.4 494.1,111 494.5,106.1 495.3,109.1 496.1,103 496.8,98.4 497.6,95.3 498.4,99.9 499.1,106.1 499.9,103 500.7,99.9 501.4,103 502.2,107.6 503,101.5 503.7,112.2 504.5,106.1 505.3,99.9 506,101.5 506.8,106.1 507.6,99.9 508.3,93.8 509.1,92.3 509.9,98.4 510.6,103 511.4,107.6 512.2,103 512.9,106.1 513.7,101.5 514.5,106.1 515.2,101.5 516,98.4 516.8,104.5 517.5,101.5 518.3,98.4 519.1,96.9 519.8,95.3 520.6,93.8 521.4,96.9 522.1,93.8 522.9,92.3 523.7,91.5 524.4,95.3 525.2,99.9 526,96.9 526.7,101.5 527.5,98.4 528.2,94.6 529,96.9 529.8,103 530.5,99.9 531.3,96.9 532.1,101.5 533.1,104.3 533.8,107.3 534.6,108.9 535.4,110.4 536.1,111.9 536.9,115 537.7,113.5 538.4,115 539.2,114.2 540,115 540.7,113.5 541.5,115 542.3,110.4 543,107.3 543.8,108.9 544.6,111.9 545.3,107.3 546.1,105.8 546.9,104.3 547.6,107.3 548.4,110.4 549.2,107.3 549.9,110.4 550.7,119.6 551.5,110.4 552.2,113.5 553,116.5 553.8,115 554.5,119.6 555.3,116.5 556.1,113.5 556.8,116.5 557.6,115 558.4,118.1 559.1,116.5 559.9,121.1 560.7,122.7 561.4,124.2 562.2,127.2 563,130.3 564,128 565.2,124.2 566,125.7 566.8,124.1 567.5,130.3 568.3,133.3 569.1,127.2 569.8,124.1 570.6,128.7 571.4,134.9 572.1,133.3 572.9,128.7 573.7,127.2 574.4,133.3 575.2,139.5 576,142.5 576.7,137.9 577.5,136.4 578.3,133.3 579,131.8 579.8,136.4 580.6,137.9 581.3,134.9 582.1,133.3 582.9,136.4 583.6,133.3 584.4,130.3 585.2,133.3 585.9,141 586.7,148.7 587.5,150.2 588.2,153.2 589,156.3 590.5,154.8 592.1,151.7 593.6,154.8 595.1,153.2 596.2,150.2 597,152.9 597.9,151 598.9,160.6 599.8,168.2 600.8,162.5 601.7,158.7 602.7,166.3 603.7,170.1 604.6,160.6 605.6,154.8 606.5,156.7 607.5,152.9 608.5,154.8 609.4,151 610.4,147.2 611.3,156.7 612.3,166.3 613.2,176 614.1,190 615.2,195.5 616.4,194 617.5,186 618.7,177.6 621,174.1 622.1,173 623.3,171.8" fill="none" stroke="#ECE06A" stroke-width="1.8" stroke-linejoin="round" stroke-linecap="round" opacity="1.0"/>
<polyline points="381.5,146 382.3,145.6 383.1,143.3 383.8,139.5 384.6,136.4 385.4,134.9 386.1,130.3 386.9,128.7 387.7,128 388.4,131.8 389.2,133.3 390,140 390.7,150 391.5,158.8 392.3,155.7 393,152.7 393.8,151.1 394.6,154.2 395.3,151.1 396.1,157.3 396.9,164.9 397.6,170.3 398.4,163.4 399.2,154.2 399.9,145 400.7,134.9 401.5,131.8 402.2,133.3 403,139.5 403.8,134.9 404.5,131.8 405.3,128.7 406.1,129.5 406.8,128.7 407.6,133.3 408.4,136.4 409.1,133.3 409.9,137.9 410.7,142.5 411.4,139.5 412.2,134.9 413,133.3 413.7,137.9 414.5,133.3 415.2,129.5 416,127.2 416.8,128.7 417.5,124.1 418.3,127 419.1,123 419.5,121 420.3,120.2 421.1,118.7 421.8,115.7 422.6,111.1 423.4,108 424.1,104.9 424.9,104.2 425.7,101.9 426.4,96.5 427.2,101.9 428,111.1 428.7,122 429.5,112.6 430.3,114.1 431,118.7 431.8,112.6 432.6,124.5 433.3,109.5 434.1,108 434.9,115.7 435.6,123.3 436.4,124.8 437.2,120.2 437.9,111.1 438.7,104.9 439.5,100.3 440.2,98.8 441,95.7 441.8,94.2 442.5,100.3 443.3,126 444.1,131 444.8,124 445.6,117.2 446.4,108 447.1,100.3 447.9,104.9 448.7,103.4 449.4,106.5 450.2,100.3 451,95 451.5,87.6 452,86.3 452.9,89.8 453.7,81.2 454.6,84.6 454.9,98.4 455.4,110.5 456.3,103.6 457.2,108.8 458,117.4 458.6,107 459.2,93.2 459.8,98.4 460.6,110.5 461.5,101.9 462.3,84.6 463.2,81.2 464.1,89.8 464.9,96.7 465.8,100.1 466.7,96.7 467.5,98.4 468.4,95 469.2,93.2 470.1,86.3 470.7,73 471.5,73.8 472.2,78.4 473,79.9 473.8,84.5 474.5,90.7 475.3,96.8 476.1,93.7 476.8,90.7 477.6,89.1 478.4,86.1 479.1,89.1 479.9,84.5 480.7,83 481.4,86.8 482.2,86.1 483,83 483.7,81.5 484.5,79.9 485.2,78.4 486,79.2 486.8,78.4 487.5,79.9 488.3,78.4 489.1,81.5 490.3,78 491.1,73.4 491.8,70.3 492.6,71.9 493.4,78 494.1,84.1 494.9,78 495.7,71.9 496.4,70.3 497.2,71.9 498,74.9 498.7,78 499.5,77.2 500.3,74.9 501,71.9 501.8,70.3 502.6,73.4 503.3,85.7 504.1,90.2 504.9,76.5 505.6,70.3 506.4,71.9 507.2,82.6 507.9,70.3 508.7,68 509.5,69.6 510.5,93 511.8,78 512.5,73.4 513.3,70.3 514.1,71.9 514.8,78 515.6,93.3 516.4,85.7 517.1,74.9 517.9,71.9 518.7,73.4 519.4,76.5 520.2,73.4 520.9,76.5 521.7,81.1 522.5,81.8 523.2,76.5 524,74.9 524.8,78 525.5,76.5 526.3,72 526.8,70.7 527.5,72.3 528.3,76.9 529.1,75.3 529.8,78.4 530.6,81.5 531.4,75.3 532.1,72.3 532.9,73.8 533.7,87.6 534.4,79.9 535.2,76.9 536,73.8 536.7,76.9 537.5,90.7 538.3,93.7 539,87.6 539.8,89.1 540.6,84.5 541.3,81.5 542.1,79.9 542.9,83 543.6,78.4 544.4,76.9 545.2,75.3 545.9,76.1 546.7,81.5 547.5,90.7 548.2,98.3 549,90.7 549.8,83 550.5,86.1 551.3,89.1 552.1,84.5 552.8,81.5 553.6,83 554.4,84.5 555.1,88.4 555.9,90.7 556.7,89.1 557.4,92.2 558.2,90.7 559,93.7 559.7,92.2 560.5,96.8 561.2,94.5 562,98.3 563.5,96.8 564.3,98.3 565.1,97.2 565.8,100.3 566.6,104.9 567.4,106.4 568.1,107.9 568.9,106.4 569.7,102.6 570.4,104.9 571.2,103.3 572,97.2 572.7,94.9 573.5,95.7 574.3,101.8 575,106.4 575.8,108.7 576.6,109.5 577.3,106.4 578.1,103.3 578.9,100.3 579.6,97.2 580.4,98.7 581.2,100.3 581.9,98 582.7,97.2 583.5,94.9 584.2,93.4 585,101.8 585.8,111 586.7,118 587.5,127.2 588.2,131.8 589,122.6 589.8,127.2 590.5,139.5 591.3,137.9 592.1,134.9 592.8,131.8 593.6,127.2 594.4,124.1 595.1,125.7 595.9,122.6 596.7,119.5 597.4,118 598.2,124.1 599,141 599.5,150 600.3,145 600.8,137.6 601.7,141.4 602.5,136 603.5,145 604.5,140 605.6,134 606.5,129 607.5,126 608.4,123 609.4,128 610.4,134 611.3,139.5 612.3,143.3 613.2,147.2 614.2,156.7 615.2,166.3 616.1,162.5 617.1,170.1 618,173 619,164.4 619.9,154.8 620.9,149.1 621.9,147.2 622.8,146.2 623.8,144.3" fill="none" stroke="#CC0000" stroke-width="1.7" stroke-linejoin="round" stroke-linecap="round" opacity="1.0"/>
<polyline points="381,189 382.1,187.9 384.2,185.8 386.3,186.9 388.4,190 390.5,187.9 392.6,189 394.8,186.9 396.9,191.1 399,187.9 400,183.8 400.8,182.3 401.9,181.9 403.1,185.3 404.2,183 405.4,181.5 406.5,181.9 407.7,184.6 408.8,187.6 409.6,185.3 410.3,183.8 411.1,185.3 412.3,183.8 413.4,185.3 414.6,181.5 415.3,180.7 416.1,182.3 417.2,179.2 418,177.1 418.8,176.4 419.5,178.7 420.3,176.4 421.1,174.1 421.8,172.5 422.6,171 423.4,169.5 424.1,166.4 424.9,164.9 425.7,166.4 426.4,163.3 427.2,158.7 428,164.9 428.7,167.9 429.5,166.4 430.3,169.5 431,167.9 431.8,172.5 432.6,169.5 433.3,166.4 434.1,169.5 434.9,167.9 435.6,172.5 436.1,186.3 436.7,178.7 437.2,169.5 437.9,164.9 438.7,163.3 439.5,161.8 440.2,160.3 441,158.7 441.8,160.3 442.5,183.2 443.1,190 443.6,187.8 444.1,178.7 444.8,171 445.6,163.3 446.4,160.3 447.1,157.2 447.9,154.1 448.7,160.3 449.4,157.2 450.2,154.1 451,157.2 451.7,154.1 452,151.5 453,143.8 453.6,142 454.3,155.3 454.9,164.9 455.8,159.2 456.8,166.8 457.4,176 458.1,163 459.3,157.2 460,170 460.6,160 461.2,153.4 462,161.1 463.1,180 463.9,175 464.5,161.1 465.4,155.3 466.4,159.2 467,170 467.6,162 468.3,157.2 469.2,151.5 470.3,135.8 471.1,132.7 471.9,137.3 472.6,141.9 473.4,146.5 474.2,143.5 474.9,148.1 475.7,152.7 476.5,157.2 477.2,149.6 478,145 478.8,141.9 479.5,140.4 480.3,148.1 481.1,152.7 481.8,158.8 482.6,152.7 483.4,145 484.1,140.4 484.9,137.3 485.7,134.3 486.4,132.7 487.2,132 488,132.7 488.7,135.8 489.5,137.3 490.2,135.8 491,137.3 491.8,131.2 492,127.2 492.8,130.3 493.5,150 494,165 494.5,151.7 495.1,141 495.8,136.4 496.6,134.9 497.4,131.8 498.1,141 498.9,148.7 499.7,157 500.4,144.1 501.2,137.9 502,136.4 502.7,141 503.6,183 504.3,140 505,128.7 505.8,124.9 506.6,124.1 507.3,141 508.1,148.7 508.9,142.5 509.8,189 510.4,150 511.2,154.8 511.9,141 512.7,134.9 513.5,133.3 514.2,136.4 515,134.9 515.8,142.5 516.2,169 516.8,150 517.3,153.2 518.1,144.1 518.8,145.6 519.6,153.2 520.4,148.7 521.1,147.1 521.9,160 522.5,175 523.2,155 524.2,153.2 525,148.7 525.7,147.1 526.5,145.6 527.2,146.4 528,148.7 528.8,160 529.4,176 530.1,152 531.1,147.1 531.5,153.4 532.3,148.8 533.1,156.5 533.8,171.8 534.3,147.3 534.9,145.7 535.8,146.5 536.4,147.3 536.9,151.9 537.7,159.5 538.4,165.7 539.2,161.1 540,156.5 540.7,151.9 541.5,148.8 542.3,147.3 543,150.3 543.8,158 544.6,153.4 545.3,147.3 546.1,150.3 546.9,156.5 547.6,170 548.1,189 548.7,172 549.2,161.1 549.9,154.9 550.7,153.4 551.5,154.9 552.2,153.4 553,156.5 553.8,162.6 554.5,154.9 555.3,153.4 556.1,158 556.8,159.5 557.6,158.8 558.4,165 559,181 559.6,166 560.7,158 561.4,161.1 562.2,164.1 563,161.8 563.7,165.7 564.5,164.1 565.2,167.2 566,165.3 566.8,164.6 567.5,179.1 568.3,169.9 569.1,166.9 569.8,173 570.6,177.6 571.4,169.9 572.1,163.8 572.9,162.3 573.7,169.9 574.4,182.2 575.2,171.5 576,168.4 576.7,173 577.5,171.5 578.3,173 579,169.9 579.8,166.9 580.6,168.4 581.3,173 582.1,171.5 582.9,166.9 583.6,165.3 584.4,164.6 585.2,169.9 585.9,176.1 586.7,179.1 587.5,178.4 588.2,180.7 589,179.1 589.8,182.2 590.5,183.7 591.3,186.8 592.1,183.7 592.8,183 593.6,181.4 594.4,183 595.1,181.4 595.9,180.7 596.7,183 597.4,179.9 598.2,180.7 599,183.7 599.7,186.8 600.5,184.5 601.2,185.2 602,187.5 602.8,186.8 603.5,185.2 604.3,184.5 605.1,185.2 607.2,181 608.3,179.9 609.5,178.7 610.6,187.9 611.8,192.5 612.9,192.5 614.1,191.4 615.2,192.5 616.4,192.5 617.5,191.4 619.8,192.5 621,191.4 623.3,190.2" fill="none" stroke="#0000E6" stroke-width="2.1" stroke-linejoin="round" stroke-linecap="round" opacity="1.0"/>
<line x1="381.2" y1="203.3" x2="624.4" y2="203.3" stroke="#000" stroke-width="1.2"/>
<line x1="381.2" y1="203.3" x2="381.2" y2="206.3" stroke="#000" stroke-width="1"/>
<text x="381.2" y="218.9" text-anchor="middle" font-family="'Liberation Serif', serif" font-size="12" fill="#000" stroke="#000" stroke-width="0.3">0</text>
<line x1="397.82" y1="203.3" x2="397.82" y2="205.1" stroke="#000" stroke-width="1"/>
<line x1="414.45" y1="203.3" x2="414.45" y2="206.3" stroke="#000" stroke-width="1"/>
<text x="414.45" y="218.9" text-anchor="middle" font-family="'Liberation Serif', serif" font-size="12" fill="#000" stroke="#000" stroke-width="0.3">50</text>
<line x1="431.07" y1="203.3" x2="431.07" y2="205.1" stroke="#000" stroke-width="1"/>
<line x1="447.7" y1="203.3" x2="447.7" y2="206.3" stroke="#000" stroke-width="1"/>
<text x="447.7" y="218.9" text-anchor="middle" font-family="'Liberation Serif', serif" font-size="12" fill="#000" stroke="#000" stroke-width="0.3">100</text>
<line x1="464.32" y1="203.3" x2="464.32" y2="205.1" stroke="#000" stroke-width="1"/>
<line x1="480.95" y1="203.3" x2="480.95" y2="206.3" stroke="#000" stroke-width="1"/>
<text x="480.95" y="218.9" text-anchor="middle" font-family="'Liberation Serif', serif" font-size="12" fill="#000" stroke="#000" stroke-width="0.3">150</text>
<line x1="497.57" y1="203.3" x2="497.57" y2="205.1" stroke="#000" stroke-width="1"/>
<line x1="514.2" y1="203.3" x2="514.2" y2="206.3" stroke="#000" stroke-width="1"/>
<text x="514.2" y="218.9" text-anchor="middle" font-family="'Liberation Serif', serif" font-size="12" fill="#000" stroke="#000" stroke-width="0.3">200</text>
<line x1="530.83" y1="203.3" x2="530.83" y2="205.1" stroke="#000" stroke-width="1"/>
<line x1="547.45" y1="203.3" x2="547.45" y2="206.3" stroke="#000" stroke-width="1"/>
<text x="547.45" y="218.9" text-anchor="middle" font-family="'Liberation Serif', serif" font-size="12" fill="#000" stroke="#000" stroke-width="0.3">250</text>
<line x1="564.08" y1="203.3" x2="564.08" y2="205.1" stroke="#000" stroke-width="1"/>
<line x1="580.7" y1="203.3" x2="580.7" y2="206.3" stroke="#000" stroke-width="1"/>
<text x="580.7" y="218.9" text-anchor="middle" font-family="'Liberation Serif', serif" font-size="12" fill="#000" stroke="#000" stroke-width="0.3">300</text>
<line x1="597.33" y1="203.3" x2="597.33" y2="205.1" stroke="#000" stroke-width="1"/>
<line x1="613.95" y1="203.3" x2="613.95" y2="206.3" stroke="#000" stroke-width="1"/>
<text x="613.95" y="218.9" text-anchor="middle" font-family="'Liberation Serif', serif" font-size="12" fill="#000" stroke="#000" stroke-width="0.3">350</text>
<line x1="381.2" y1="55.6" x2="381.2" y2="203.3" stroke="#000" stroke-width="1.4"/>
<line x1="378.7" y1="203.3" x2="381.2" y2="203.3" stroke="#000" stroke-width="1"/>
<text x="377" y="208.2" text-anchor="end" font-family="'Liberation Serif', serif" font-size="12" fill="#000" stroke="#000" stroke-width="0.3">−30</text>
<line x1="379.7" y1="192.75" x2="381.2" y2="192.75" stroke="#000" stroke-width="1"/>
<line x1="378.7" y1="182.2" x2="381.2" y2="182.2" stroke="#000" stroke-width="1"/>
<text x="377" y="187.1" text-anchor="end" font-family="'Liberation Serif', serif" font-size="12" fill="#000" stroke="#000" stroke-width="0.3">−20</text>
<line x1="379.7" y1="171.65" x2="381.2" y2="171.65" stroke="#000" stroke-width="1"/>
<line x1="378.7" y1="161.1" x2="381.2" y2="161.1" stroke="#000" stroke-width="1"/>
<text x="377" y="166" text-anchor="end" font-family="'Liberation Serif', serif" font-size="12" fill="#000" stroke="#000" stroke-width="0.3">−10</text>
<line x1="379.7" y1="150.55" x2="381.2" y2="150.55" stroke="#000" stroke-width="1"/>
<line x1="378.7" y1="140" x2="381.2" y2="140" stroke="#000" stroke-width="1"/>
<text x="377" y="144.9" text-anchor="end" font-family="'Liberation Serif', serif" font-size="12" fill="#000" stroke="#000" stroke-width="0.3">0</text>
<line x1="379.7" y1="129.45" x2="381.2" y2="129.45" stroke="#000" stroke-width="1"/>
<line x1="378.7" y1="118.9" x2="381.2" y2="118.9" stroke="#000" stroke-width="1"/>
<text x="377" y="123.8" text-anchor="end" font-family="'Liberation Serif', serif" font-size="12" fill="#000" stroke="#000" stroke-width="0.3">10</text>
<line x1="379.7" y1="108.35" x2="381.2" y2="108.35" stroke="#000" stroke-width="1"/>
<line x1="378.7" y1="97.8" x2="381.2" y2="97.8" stroke="#000" stroke-width="1"/>
<text x="377" y="102.7" text-anchor="end" font-family="'Liberation Serif', serif" font-size="12" fill="#000" stroke="#000" stroke-width="0.3">20</text>
<line x1="379.7" y1="87.25" x2="381.2" y2="87.25" stroke="#000" stroke-width="1"/>
<line x1="378.7" y1="76.7" x2="381.2" y2="76.7" stroke="#000" stroke-width="1"/>
<text x="377" y="81.6" text-anchor="end" font-family="'Liberation Serif', serif" font-size="12" fill="#000" stroke="#000" stroke-width="0.3">30</text>
<line x1="379.7" y1="66.15" x2="381.2" y2="66.15" stroke="#000" stroke-width="1"/>
<line x1="378.7" y1="55.6" x2="381.2" y2="55.6" stroke="#000" stroke-width="1"/>
<text x="377" y="60.5" text-anchor="end" font-family="'Liberation Serif', serif" font-size="12" fill="#000" stroke="#000" stroke-width="0.3">40</text>
<line x1="624.4" y1="55.6" x2="624.4" y2="203.3" stroke="#4F86B6" stroke-width="1.2"/>
<line x1="624.4" y1="203.3" x2="626.9" y2="203.3" stroke="#4F86B6" stroke-width="1"/>
<text x="629" y="208.4" font-family="'Liberation Serif', serif" font-size="12" fill="#4F86B6" stroke="#4F86B6" stroke-width="0.25">0</text>
<line x1="624.4" y1="184.84" x2="625.9" y2="184.84" stroke="#4F86B6" stroke-width="1"/>
<line x1="624.4" y1="166.38" x2="626.9" y2="166.38" stroke="#4F86B6" stroke-width="1"/>
<text x="629" y="171.47" font-family="'Liberation Serif', serif" font-size="12" fill="#4F86B6" stroke="#4F86B6" stroke-width="0.25">10</text>
<line x1="624.4" y1="147.91" x2="625.9" y2="147.91" stroke="#4F86B6" stroke-width="1"/>
<line x1="624.4" y1="129.45" x2="626.9" y2="129.45" stroke="#4F86B6" stroke-width="1"/>
<text x="629" y="134.55" font-family="'Liberation Serif', serif" font-size="12" fill="#4F86B6" stroke="#4F86B6" stroke-width="0.25">20</text>
<line x1="624.4" y1="110.99" x2="625.9" y2="110.99" stroke="#4F86B6" stroke-width="1"/>
<line x1="624.4" y1="92.52" x2="626.9" y2="92.52" stroke="#4F86B6" stroke-width="1"/>
<text x="629" y="97.62" font-family="'Liberation Serif', serif" font-size="12" fill="#4F86B6" stroke="#4F86B6" stroke-width="0.25">30</text>
<line x1="624.4" y1="74.06" x2="625.9" y2="74.06" stroke="#4F86B6" stroke-width="1"/>
<line x1="624.4" y1="55.6" x2="626.9" y2="55.6" stroke="#4F86B6" stroke-width="1"/>
<text x="629" y="60.7" font-family="'Liberation Serif', serif" font-size="12" fill="#4F86B6" stroke="#4F86B6" stroke-width="0.25">40</text>
<line x1="653.7" y1="55.6" x2="653.7" y2="203.3" stroke="#0000FF" stroke-width="1.2"/>
<line x1="653.7" y1="203.3" x2="655.2" y2="203.3" stroke="#0000FF" stroke-width="1"/>
<line x1="653.7" y1="196.27" x2="656.2" y2="196.27" stroke="#0000FF" stroke-width="1"/>
<text x="658.7" y="201.37" font-family="'Liberation Serif', serif" font-size="12" fill="#0000FF" stroke="#0000FF" stroke-width="0.3">0</text>
<line x1="653.7" y1="189.23" x2="655.2" y2="189.23" stroke="#0000FF" stroke-width="1"/>
<line x1="653.7" y1="182.2" x2="656.2" y2="182.2" stroke="#0000FF" stroke-width="1"/>
<text x="658.7" y="187.3" font-family="'Liberation Serif', serif" font-size="12" fill="#0000FF" stroke="#0000FF" stroke-width="0.3">2</text>
<line x1="653.7" y1="175.17" x2="655.2" y2="175.17" stroke="#0000FF" stroke-width="1"/>
<line x1="653.7" y1="168.13" x2="656.2" y2="168.13" stroke="#0000FF" stroke-width="1"/>
<text x="658.7" y="173.23" font-family="'Liberation Serif', serif" font-size="12" fill="#0000FF" stroke="#0000FF" stroke-width="0.3">4</text>
<line x1="653.7" y1="161.1" x2="655.2" y2="161.1" stroke="#0000FF" stroke-width="1"/>
<line x1="653.7" y1="154.07" x2="656.2" y2="154.07" stroke="#0000FF" stroke-width="1"/>
<text x="658.7" y="159.17" font-family="'Liberation Serif', serif" font-size="12" fill="#0000FF" stroke="#0000FF" stroke-width="0.3">6</text>
<line x1="653.7" y1="147.03" x2="655.2" y2="147.03" stroke="#0000FF" stroke-width="1"/>
<line x1="653.7" y1="140" x2="656.2" y2="140" stroke="#0000FF" stroke-width="1"/>
<text x="658.7" y="145.1" font-family="'Liberation Serif', serif" font-size="12" fill="#0000FF" stroke="#0000FF" stroke-width="0.3">8</text>
<line x1="653.7" y1="132.97" x2="655.2" y2="132.97" stroke="#0000FF" stroke-width="1"/>
<line x1="653.7" y1="125.93" x2="656.2" y2="125.93" stroke="#0000FF" stroke-width="1"/>
<text x="658.7" y="131.03" font-family="'Liberation Serif', serif" font-size="12" fill="#0000FF" stroke="#0000FF" stroke-width="0.3">10</text>
<line x1="653.7" y1="118.9" x2="655.2" y2="118.9" stroke="#0000FF" stroke-width="1"/>
<line x1="653.7" y1="111.87" x2="656.2" y2="111.87" stroke="#0000FF" stroke-width="1"/>
<text x="658.7" y="116.97" font-family="'Liberation Serif', serif" font-size="12" fill="#0000FF" stroke="#0000FF" stroke-width="0.3">12</text>
<line x1="653.7" y1="104.83" x2="655.2" y2="104.83" stroke="#0000FF" stroke-width="1"/>
<line x1="653.7" y1="97.8" x2="656.2" y2="97.8" stroke="#0000FF" stroke-width="1"/>
<text x="658.7" y="102.9" font-family="'Liberation Serif', serif" font-size="12" fill="#0000FF" stroke="#0000FF" stroke-width="0.3">14</text>
<line x1="653.7" y1="90.77" x2="655.2" y2="90.77" stroke="#0000FF" stroke-width="1"/>
<line x1="653.7" y1="83.73" x2="656.2" y2="83.73" stroke="#0000FF" stroke-width="1"/>
<text x="658.7" y="88.83" font-family="'Liberation Serif', serif" font-size="12" fill="#0000FF" stroke="#0000FF" stroke-width="0.3">16</text>
<line x1="653.7" y1="76.7" x2="655.2" y2="76.7" stroke="#0000FF" stroke-width="1"/>
<line x1="653.7" y1="69.67" x2="656.2" y2="69.67" stroke="#0000FF" stroke-width="1"/>
<text x="658.7" y="74.77" font-family="'Liberation Serif', serif" font-size="12" fill="#0000FF" stroke="#0000FF" stroke-width="0.3">18</text>
<line x1="653.7" y1="62.63" x2="655.2" y2="62.63" stroke="#0000FF" stroke-width="1"/>
<line x1="653.7" y1="55.6" x2="656.2" y2="55.6" stroke="#0000FF" stroke-width="1"/>
<text x="658.7" y="60.7" font-family="'Liberation Serif', serif" font-size="12" fill="#0000FF" stroke="#0000FF" stroke-width="0.3">20</text>
<text transform="translate(356.3,180.8) rotate(-90)" font-family="'Liberation Mono', monospace" font-size="12" fill="#111" textLength="101.3" lengthAdjust="spacingAndGlyphs">Temperatures (℃)</text>
<text transform="translate(650.9,181.8) rotate(-90)" font-family="'Liberation Mono', monospace" font-size="12" fill="#111" textLength="100.3" lengthAdjust="spacingAndGlyphs">Precipition (㎜)</text>
<text transform="translate(682.4,259.3) rotate(-90)" font-family="'Liberation Mono', monospace" font-size="12" fill="#111" textLength="260.8" lengthAdjust="spacingAndGlyphs">Reference evapotranspiration value (㎜/day)</text>
<line x1="389.5" y1="48.7" x2="414.1" y2="48.7" stroke="#CC0000" stroke-width="1.5"/>
<text x="420.5" y="52.5" font-family="'Liberation Mono', monospace" font-size="11.5" fill="#000" stroke="#000" stroke-width="0.12" textLength="24" lengthAdjust="spacingAndGlyphs" lengthAdjust="spacingAndGlyphs">Tmax</text>
<line x1="449.9" y1="48.7" x2="474.5" y2="48.7" stroke="#ECE06A" stroke-width="1.5"/>
<text x="481.2" y="52.5" font-family="'Liberation Mono', monospace" font-size="11.5" fill="#000" stroke="#000" stroke-width="0.12" textLength="24" lengthAdjust="spacingAndGlyphs" lengthAdjust="spacingAndGlyphs">Tmin</text>
<line x1="510.9" y1="49.1" x2="534.1" y2="49.1" stroke="#7070FF" stroke-width="1.3"/>
<text x="540.7" y="52.5" font-family="'Liberation Serif', serif" font-size="11" fill="#000" stroke="#000" stroke-width="0.2">ET<tspan font-size="8" dy="2.6">0</tspan></text>
<rect x="562.5" y="42.8" width="24.3" height="12" fill="#87CEFA"/>
<text x="592.5" y="52.5" font-family="'Liberation Mono', monospace" font-size="11.5" fill="#000" stroke="#000" stroke-width="0.12" textLength="24.5" lengthAdjust="spacingAndGlyphs" lengthAdjust="spacingAndGlyphs">Rain</text>
<text x="473.6" y="244.5" font-family="'Liberation Serif', serif" font-size="18" fill="#000" stroke="#000" stroke-width="0.2" textLength="33.4" lengthAdjust="spacingAndGlyphs">2023</text>
<text x="510.2" y="244.5" font-family="'Liberation Serif', serif" font-size="18" fill="#000" stroke="#000" stroke-width="0.2" textLength="19.6" lengthAdjust="spacingAndGlyphs">(b)</text>
</svg>
</body></html>
